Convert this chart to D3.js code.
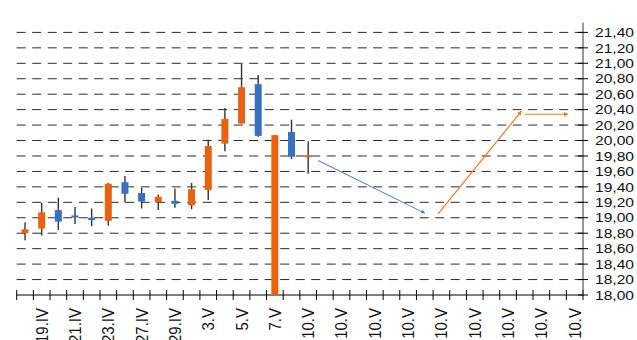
<!DOCTYPE html>
<html>
<head>
<meta charset="utf-8">
<script src="https://cdn.jsdelivr.net/npm/d3@7"></script>
<style>
  html, body { margin: 0; padding: 0; background: #fff; }
  svg { display: block; font-family: "Liberation Sans", Arial, sans-serif; }
</style>
</head>
<body>
<svg id="chart" width="637" height="340"></svg>
<script>
// Trading days, then the empty forecast slots (all carry the last date)
const categories = [
  "16.IV", "19.IV", "20.IV", "21.IV", "22.IV", "23.IV", "26.IV", "27.IV", "28.IV",
  "29.IV", "30.IV", "3.V", "4.V", "5.V", "6.V", "7.V", "8.V", "10.V",
  "10.V", "10.V", "10.V", "10.V", "10.V", "10.V", "10.V", "10.V",
  "10.V", "10.V", "10.V", "10.V", "10.V", "10.V", "10.V", "10.V"
];

// Daily prices (7.V opening price is missing and recorded as 0)
const openPrices  = [18.80, 18.86, 19.10, 19.03, 19.00, 18.96, 19.46, 19.32, 19.20, 19.22, 19.16, 19.36, 19.96, 20.22, 20.73, 0, 20.11, 19.79];
const highPrices  = [18.94, 19.19, 19.26, 19.14, 19.12, 19.45, 19.54, 19.39, 19.30, 19.38, 19.45, 20.01, 20.42, 20.99, 20.85, 20.07, 20.27, 19.99];
const lowPrices   = [18.71, 18.77, 18.84, 18.92, 18.89, 18.90, 19.20, 19.12, 19.10, 19.13, 19.11, 19.23, 19.86, 20.22, 20.05, 0, 19.76, 19.57];
const closePrices = [18.85, 19.07, 18.95, 19.01, 18.97, 19.44, 19.31, 19.21, 19.27, 19.18, 19.37, 19.93, 20.28, 20.69, 20.06, 20.07, 19.79, 19.81];

// Forecast path as [category position, price] pairs
const trendDown = [[17.6, 19.74], [24.0, 19.06]];
const trendUp   = [[24.8, 19.05], [29.8, 20.38]];
const trendFlat = [[30.0, 20.34], [32.6, 20.34]];

// Price axis ticks
const yTicks = d3.range(0, 18).map(i => +(18 + i * 0.2).toFixed(2));

const colorUp = "#E8620F";
const colorDown = "#3A70C0";
const colorWick = "#333";

const svg = d3.select("#chart");
const plotLeft = 16.7, plotRight = 583, plotTop = 32.4, plotBottom = 295;

const x = d3.scaleBand().domain(d3.range(categories.length)).range([plotLeft, plotRight]).padding(0);
const xPos = d3.scaleLinear().domain([-0.5, categories.length - 0.5]).range([plotLeft, plotRight]);
const y = d3.scaleLinear().domain([18, 21.4]).range([plotBottom, plotTop]);

const defs = svg.append("defs");
defs.append("clipPath").attr("id", "plot")
  .append("rect").attr("x", plotLeft).attr("y", 0).attr("width", plotRight - plotLeft).attr("height", plotBottom);

[["blue", "#4F86D4"], ["orange", "#F47A20"]].forEach(([name, color]) => {
  defs.append("marker")
    .attr("id", "arrow-" + name)
    .attr("viewBox", "0 0 10 10")
    .attr("refX", 9).attr("refY", 5)
    .attr("markerWidth", 4.5).attr("markerHeight", 4.5)
    .attr("markerUnits", "userSpaceOnUse")
    .attr("orient", "auto")
    .append("path").attr("d", "M0,0 L10,5 L0,10 Z")
    .attr("fill", color);
});

// Dashed horizontal gridlines
svg.append("g").selectAll("line")
  .data(yTicks.filter(v => v > 18))
  .join("line")
  .attr("x1", plotLeft).attr("x2", plotRight)
  .attr("y1", d => y(d)).attr("y2", d => y(d))
  .attr("stroke", "#2a2a2a").attr("stroke-width", 1)
  .attr("stroke-dasharray", "9,6.5");

// Category axis with crossing ticks
const xAxis = svg.append("g");
xAxis.append("line").attr("x1", plotLeft).attr("x2", plotRight).attr("y1", plotBottom).attr("y2", plotBottom)
  .attr("stroke", "#000").attr("stroke-width", 1.2);
xAxis.selectAll("line.tick")
  .data(d3.range(categories.length + 1))
  .join("line").attr("class", "tick")
  .attr("x1", d => xPos(d - 0.5)).attr("x2", d => xPos(d - 0.5))
  .attr("y1", plotBottom - 5).attr("y2", plotBottom + 5)
  .attr("stroke", "#000").attr("stroke-width", 1);
xAxis.selectAll("text")
  .data(categories.map((c, i) => ({ c, i })).filter(d => d.i % 2 === 1))
  .join("text")
  .attr("transform", d => `translate(${x(d.i) + x.bandwidth() / 2},308) scale(1.1,1) rotate(-90)`)
  .attr("text-anchor", "end")
  .attr("dy", "0.36em")
  .attr("font-size", 15)
  .attr("fill", "#111")
  .text(d => d.c);

// Price axis on the right
const yAxis = svg.append("g");
yAxis.append("line").attr("x1", plotRight).attr("x2", plotRight).attr("y1", 22.5).attr("y2", plotBottom)
  .attr("stroke", "#555").attr("stroke-width", 1.2);
yAxis.selectAll("line.tick")
  .data(yTicks)
  .join("line").attr("class", "tick")
  .attr("x1", plotRight - 5).attr("x2", plotRight + 5)
  .attr("y1", d => y(d)).attr("y2", d => y(d))
  .attr("stroke", "#000").attr("stroke-width", 1);
yAxis.selectAll("text")
  .data(yTicks)
  .join("text")
  .attr("transform", d => `translate(595,${y(d)}) scale(1.2,1)`)
  .attr("dy", "0.36em")
  .attr("font-size", 13)
  .attr("fill", "#111")
  .text(d => d3.format(".2f")(d).replace(".", ","));

// Candles
const candles = openPrices.map((o, i) => ({
  i, open: o, high: highPrices[i], low: lowPrices[i], close: closePrices[i]
}));
const cg = svg.append("g").attr("clip-path", "url(#plot)");
const bodyW = 7;
cg.selectAll("line.wick")
  .data(candles)
  .join("line").attr("class", "wick")
  .attr("x1", d => x(d.i) + x.bandwidth() / 2).attr("x2", d => x(d.i) + x.bandwidth() / 2)
  .attr("y1", d => y(d.high)).attr("y2", d => y(d.low))
  .attr("stroke", colorWick).attr("stroke-width", 1.4);
cg.selectAll("rect.body")
  .data(candles)
  .join("rect").attr("class", "body")
  .attr("x", d => x(d.i) + x.bandwidth() / 2 - bodyW / 2)
  .attr("width", bodyW)
  .attr("y", d => y(Math.max(d.open, d.close)))
  .attr("height", d => Math.max(2, Math.abs(y(d.open) - y(d.close))))
  .attr("fill", d => d.close >= d.open ? colorUp : colorDown);

// Forecast arrows
const line = d3.line().x(d => xPos(d[0])).y(d => y(d[1]));
svg.append("path").datum(trendDown).attr("d", line)
  .attr("fill", "none").attr("stroke", "#4F86D4").attr("stroke-width", 1.1)
  .attr("marker-end", "url(#arrow-blue)");
svg.append("path").datum(trendUp).attr("d", line)
  .attr("fill", "none").attr("stroke", "#F47A20").attr("stroke-width", 1.2)
  .attr("marker-end", "url(#arrow-orange)");
svg.append("path").datum(trendFlat).attr("d", line)
  .attr("fill", "none").attr("stroke", "#F47A20").attr("stroke-width", 1.2)
  .attr("marker-end", "url(#arrow-orange)");
</script>
</body>
</html>
